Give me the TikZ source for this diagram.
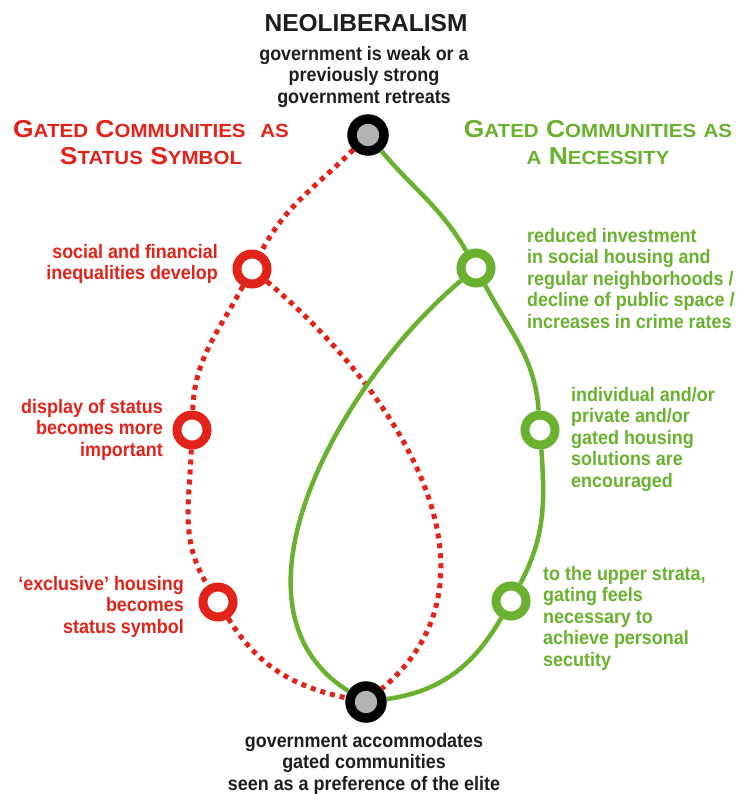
\documentclass[tikz,border=0pt]{standalone}
\usepackage{fontspec}
\setmainfont{Liberation Sans}[FakeStretch=0.92]
\newfontfamily\headfont{Liberation Sans}
\newfontfamily\titlefont{Liberation Sans}[FakeStretch=1.08]

\definecolor{statusred}{HTML}{E2231A}
\definecolor{needgreen}{HTML}{69B12E}
\definecolor{hubgray}{HTML}{B3B3B3}
\definecolor{ink}{HTML}{1E1E1E}

% big capital + small capitals, faked with two sizes
\newcommand\capsc[2]{{\fontsize{24.5}{27}\selectfont #1}{\fontsize{19}{27}\selectfont #2}}

\tikzset{
  hub/.style={circle, draw=black, line width=9.5pt, fill=hubgray, minimum size=32pt, inner sep=0pt},
  redring/.style={circle, draw=statusred, line width=9pt, fill=white, minimum size=30pt, inner sep=0pt},
  greenring/.style={circle, draw=needgreen, line width=9pt, fill=white, minimum size=30pt, inner sep=0pt},
  dotline/.style={draw=statusred, line width=5pt, dash pattern=on 5pt off 5pt},
  solidline/.style={draw=needgreen, line width=4.5pt},
  body/.style={inner sep=0pt, font=\fontsize{19.5}{21.5}\selectfont\bfseries},
  title/.style={inner sep=0pt, align=center, font=\titlefont\fontsize{24.5}{27}\selectfont\bfseries}
}

\begin{document}
\begin{tikzpicture}[x=1pt,y=1pt]
  \useasboundingbox (0,0) rectangle (737,-794);

  % hubs and rings
  \node[hub] (neo) at (368,-135) {};
  \node[hub] (accom) at (366,-702) {};
  \node[redring] (socialdev) at (252,-269) {};
  \node[redring] (display) at (192,-430) {};
  \node[redring] (exclusive) at (218,-602) {};
  \node[greenring] (investment) at (476,-268) {};
  \node[greenring] (individual) at (540,-430) {};
  \node[greenring] (upper) at (511,-601) {};

  % status symbol route
  \draw[dotline] (neo) to[out=225,in=62] (socialdev)
    to[out=242,in=88] (display)
    to[out=268,in=122] (exclusive)
    to[out=302,in=168] (accom);
  \draw[dotline] (socialdev) to[out=-40,in=40,looseness=1.05] (accom);

  % necessity route
  \draw[solidline] (neo) to[out=-50,in=120] (investment)
    to[out=-62,in=94] (individual)
    to[out=-86,in=62] (upper)
    to[out=-120,in=8] (accom);
  \draw[solidline] (investment) to[out=220,in=148,looseness=0.95] (accom);

  % texts
  \node[anchor=base, text=ink, font=\headfont\fontsize{24.5}{24.5}\selectfont\bfseries] (neotitle) at (366,-32) {NEOLIBERALISM};
  \node[body, anchor=north, align=center, text=ink] (neotext) at (364,-46)
    {government is weak or a\\previously strong\\government retreats};
  \node[body, anchor=north, align=center, text=ink] (accomtext) at (364,-733)
    {government accommodates\\gated communities\\seen as a preference of the elite};

  \node[title, anchor=north, text=statusred] (redtitle) at (151,-120)
    {\capsc{G}{ATED} \capsc{C}{OMMUNITIES}\ \ \capsc{}{AS}\\\capsc{S}{TATUS} \capsc{S}{YMBOL}};
  \node[title, anchor=north, text=needgreen] (greentitle) at (598,-120)
    {\capsc{G}{ATED} \capsc{C}{OMMUNITIES} \capsc{}{AS}\\\capsc{}{A} \capsc{N}{ECESSITY}};

  \node[body, anchor=north east, align=right, text=statusred] (socialtext) at (218,-244)
    {social and financial\\inequalities develop};
  \node[body, anchor=north east, align=right, text=statusred] (displaytext) at (163,-399)
    {display of status\\becomes more\\important};
  \node[body, anchor=north east, align=right, text=statusred] (exclusivetext) at (184,-576)
    {`exclusive' housing\\becomes\\status symbol};

  \node[body, anchor=north west, align=left, text=needgreen] (investtext) at (527,-228)
    {reduced investment\\in social housing and\\regular neighborhoods /\\decline of public space /\\increases in crime rates};
  \node[body, anchor=north west, align=left, text=needgreen] (individtext) at (571,-387)
    {individual and/or\\private and/or\\gated housing\\solutions are\\encouraged};
  \node[body, anchor=north west, align=left, text=needgreen] (uppertext) at (543,-566)
    {to the upper strata,\\gating feels\\necessary to\\achieve personal\\secutity};
\end{tikzpicture}
\end{document}
